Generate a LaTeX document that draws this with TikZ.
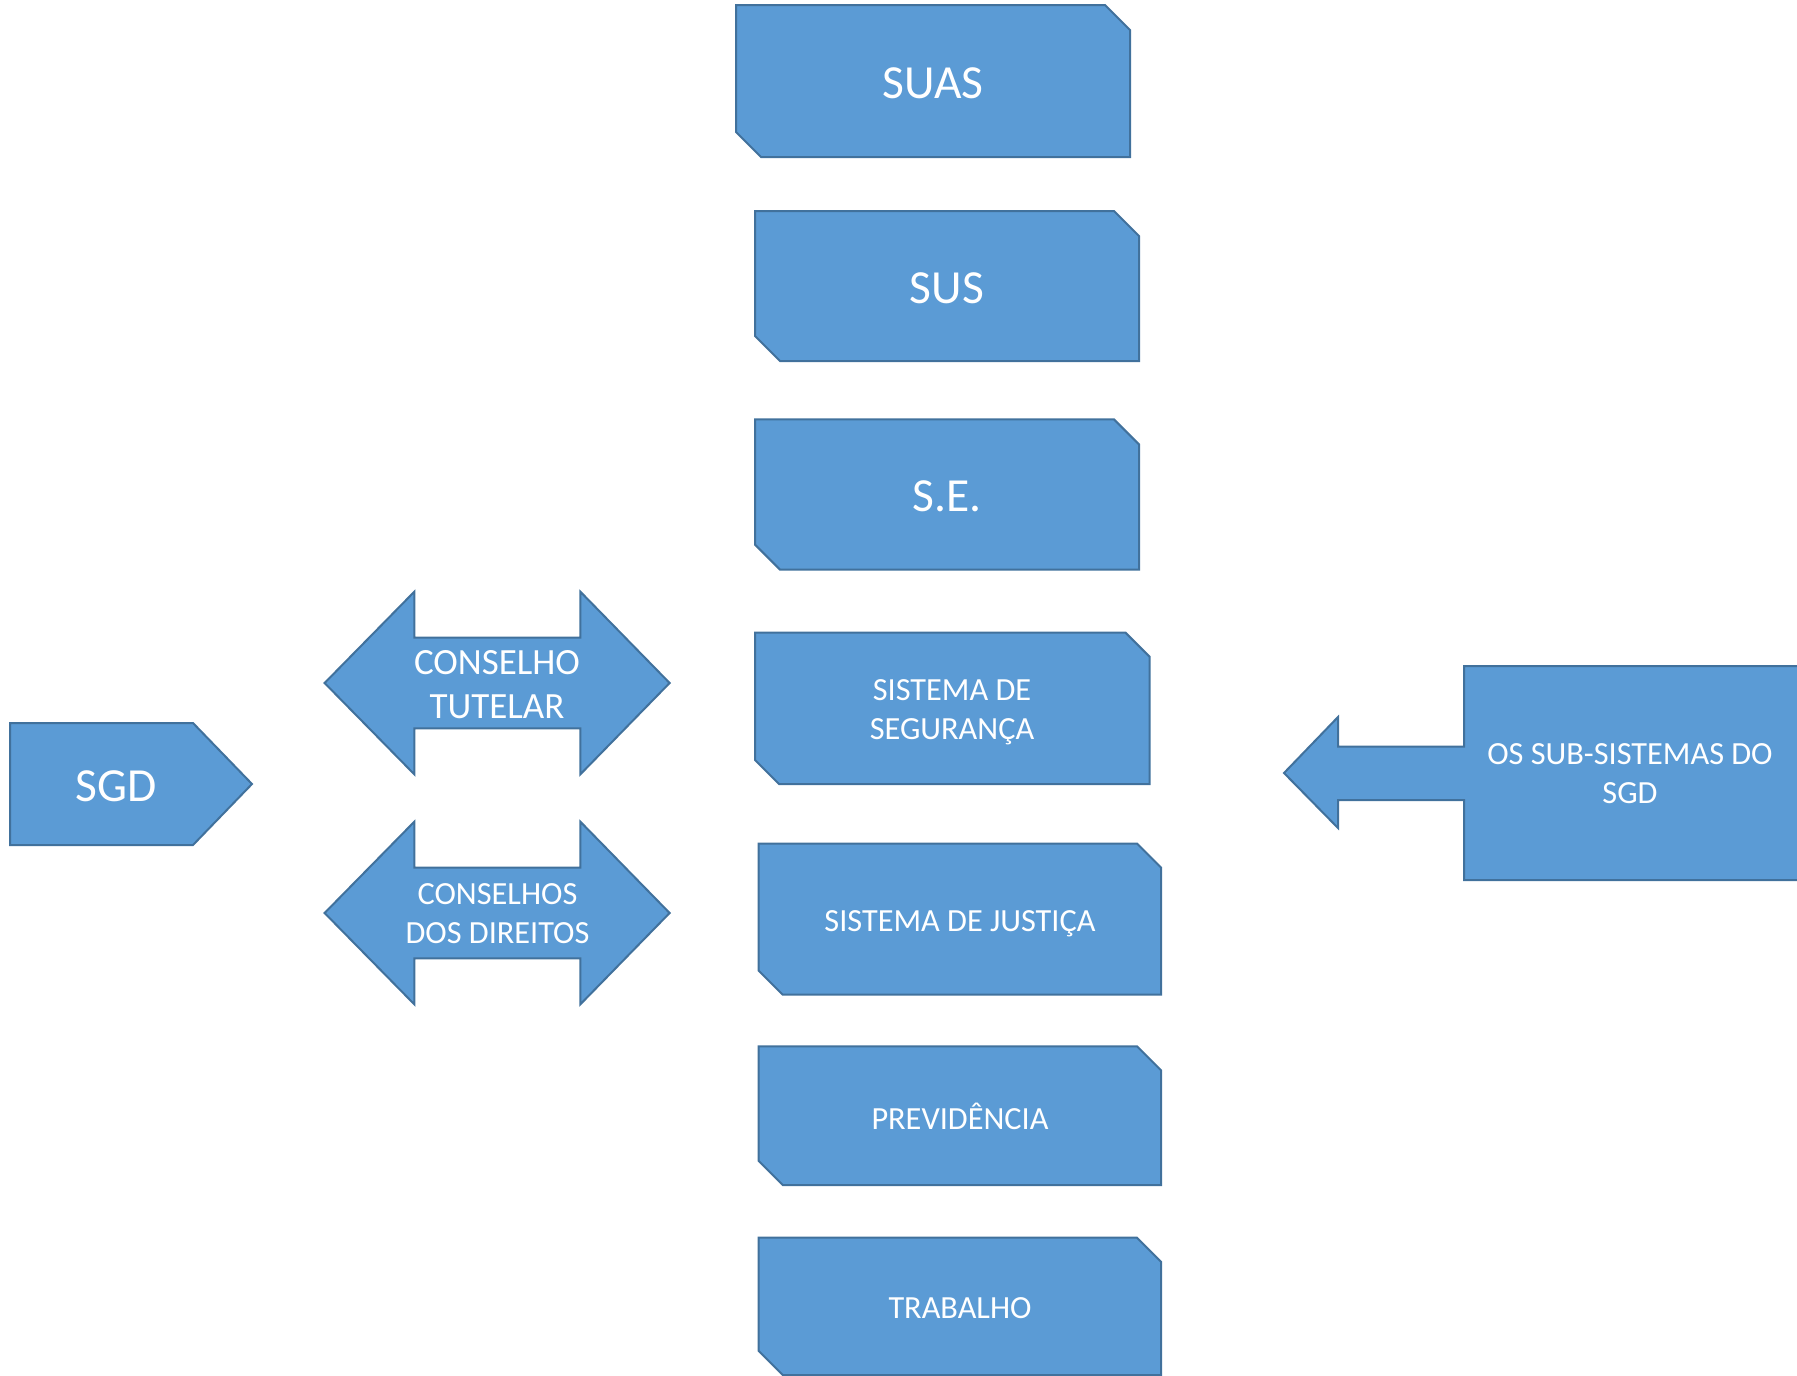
\documentclass[tikz,border=0pt]{standalone}
\usepackage{fontspec}
\setmainfont{Carlito}
\definecolor{fillblue}{HTML}{5B9BD5}
\definecolor{lineblue}{HTML}{41719C}
\newcommand\snipbox[5]{%
  \draw[shp] (#1,#2) -- ({#3-#5},#2) -- (#3,{#2+#5}) -- (#3,#4) -- ({#1+#5},#4) -- (#1,{#4-#5}) -- cycle;}
\newcommand\dblarrow[1]{% #1 = centre y
  \draw[shp] (324.6,#1) -- (414.3,{#1-91.3}) -- (414.3,{#1-45.3}) -- (580.4,{#1-45.3}) -- (580.4,{#1-91.3})
    -- (669.6,#1) -- (580.4,{#1+91.3}) -- (580.4,{#1+45.3}) -- (414.3,{#1+45.3}) -- (414.3,{#1+91.3}) -- cycle;}
\begin{document}
\begin{tikzpicture}[x=1pt,y=-1pt,
  shp/.style={fill=fillblue,draw=lineblue,line width=2pt,line join=miter},
  lbig/.style={text=white,font=\fontsize{47.5}{57}\selectfont,inner sep=0pt},
  lmid/.style={text=white,font=\fontsize{37}{44.5}\selectfont,inner sep=0pt,align=center},
  lsmall/.style={text=white,font=\fontsize{32.3}{39}\selectfont,inner sep=0pt,align=center}]
\useasboundingbox (0,0) rectangle (1797,1376);

% central column
\snipbox{736}{5}{1130}{157}{25}
\snipbox{755}{211}{1139}{361}{25}
\snipbox{755}{419.4}{1139}{569.6}{25}
\snipbox{755}{632.6}{1149.5}{784}{24}
\snipbox{758.7}{843.5}{1161}{994.7}{24}
\snipbox{758.7}{1046.3}{1161}{1185}{24}
\snipbox{758.7}{1237.7}{1161}{1375}{24}

% SGD pentagon
\draw[shp] (10,723) -- (193,723) -- (252,784) -- (193,845) -- (10,845) -- cycle;

% double arrows
\dblarrow{683}
\dblarrow{913}

% left arrow callout
\draw[shp] (1464,666) -- (1812,666) -- (1812,880) -- (1464,880) -- (1464,800) -- (1338,800)
  -- (1338,828) -- (1284,773) -- (1338,717) -- (1338,746.5) -- (1464,746.5) -- cycle;

% labels
\node[lbig] (suas) at (933,83) {SUAS};
\node[lbig] (sus) at (947,288) {SUS};
\node[lbig] (se) at (947,496.5) {S.E.};
\node[lbig] (sgd) at (116,786) {SGD};
\node[lmid] (ct) at (497,684.5) {CONSELHO\\TUTELAR};
\node[lsmall] (cd) at (497.5,914) {CONSELHOS\\DOS DIREITOS};
\node[lsmall] (seg) at (952,712) {SISTEMA DE\\SEGURANÇA};
\node[lsmall] (jus) at (960,923.5) {SISTEMA DE JUSTIÇA};
\node[lsmall] (prev) at (960,1116) {PREVIDÊNCIA};
\node[lsmall] (trab) at (960,1308) {TRABALHO};
\node[lsmall] (subs) at (1630,773.5) {OS SUB-SISTEMAS DO\\SGD};
\end{tikzpicture}
\end{document}
